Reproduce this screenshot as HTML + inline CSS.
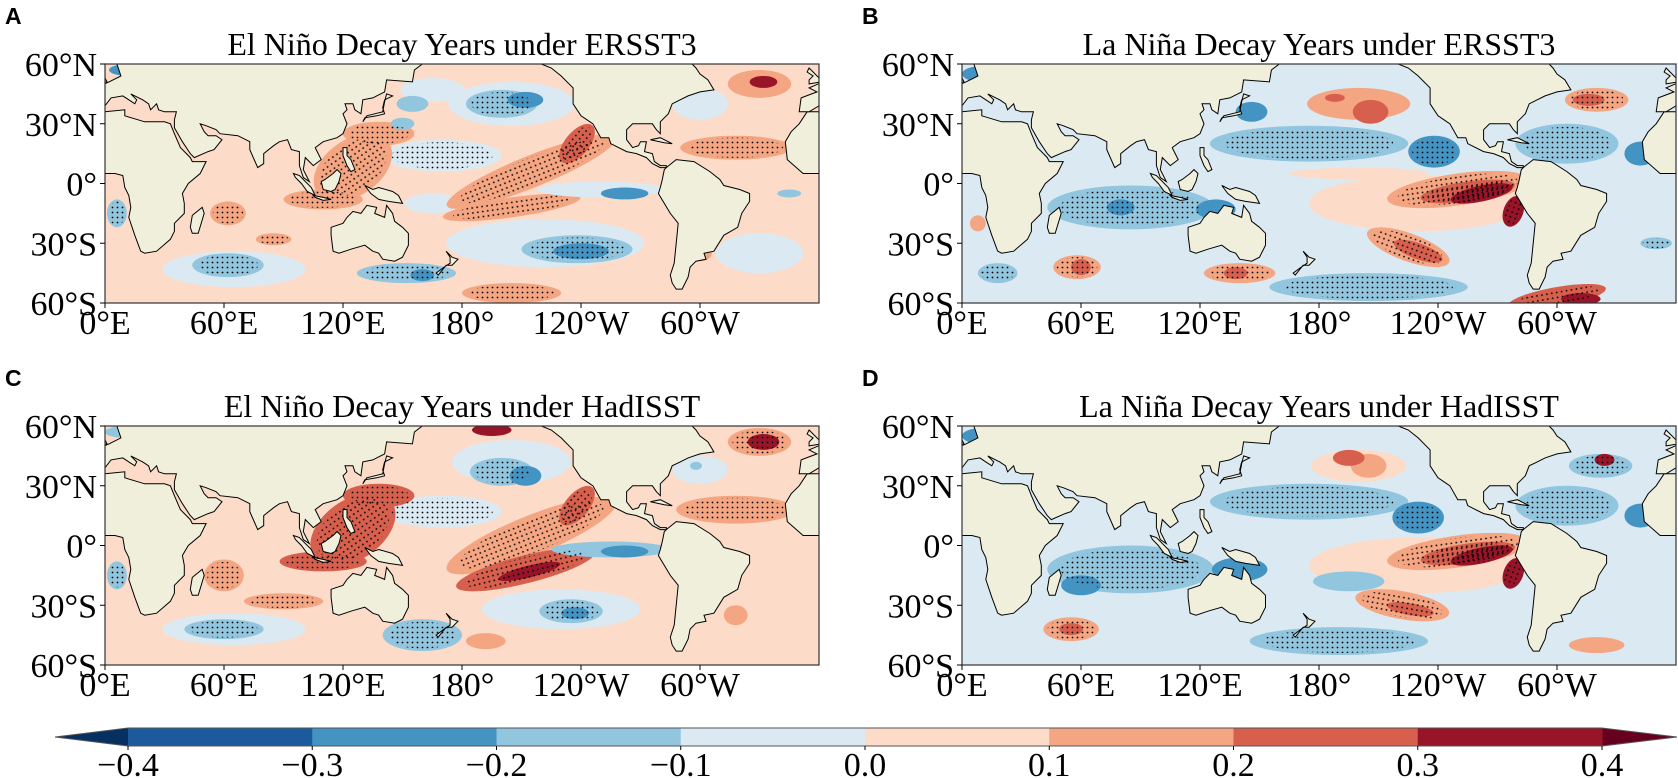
<!DOCTYPE html>
<html><head><meta charset="utf-8">
<style>
html,body{margin:0;padding:0;background:#fff;}
svg{display:block;}
text{font-family:"Liberation Serif",serif;fill:#000;}
.lbl{font-family:"Liberation Sans",sans-serif;font-weight:bold;}
</style></head>
<body>
<svg id="fig" width="1678" height="778" viewBox="0 0 1678 778" xmlns="http://www.w3.org/2000/svg">
<defs>
<pattern id="stip" width="5" height="5" patternUnits="userSpaceOnUse"><circle cx="2.5" cy="2.5" r="0.9" fill="#000"/></pattern>
</defs>
</svg>
<script>
// ---- data ----
const lonTicks=[0,60,120,180,240,300];
const lonTickLabels=["0°E","60°E","120°E","180°","120°W","60°W"];
const latTicks=[60,30,0,-30,-60];
const latTickLabels=["60°N","30°N","0°","30°S","60°S"];
const levels=[-0.4,-0.3,-0.2,-0.1,0,0.1,0.2,0.3,0.4];
const levelColors=["#053061","#1b5a9c","#4393c3","#92c5de","#dbe9f3","#fcdcc9","#f4a582","#d6604d","#981428","#67001f"];
const panelTitles=["El Niño Decay Years under ERSST3","La Niña Decay Years under ERSST3","El Niño Decay Years under HadISST","La Niña Decay Years under HadISST"];
const panelLetters=["A","B","C","D"];
const panelBase=[0.05,-0.05,0.05,-0.05];
// blobs: [lon, lat, rxDeg, ryDeg, value, stipple, angle]
const blobsA=[
[205,40,32,11,-0.05,0,0],[165,47,16,6,-0.05,0,0],[155,40,8,4,-0.15,0,0],[200,40,18,7,-0.15,1,0],[212,42,9,4,-0.25,0,0],
[170,14,30,8,-0.05,1,0],[165,-10,14,5,-0.05,0,0],[215,6,46,8,0.15,1,-22],[238,20,12,6,0.25,1,-50],[205,-12,35,5,0.15,1,-8],
[250,-3,32,4,-0.1,0,0],[262,-5,12,3,-0.25,0,0],[222,-30,50,12,-0.05,0,0],[238,-33,28,7,-0.15,1,0],[240,-34,14,4,-0.3,0,0],
[205,-55,25,5,0.15,1,0],[65,-43,36,9,-0.05,0,0],[62,-41,18,6,-0.2,1,0],[62,-15,9,6,0.15,1,0],[85,-28,9,3,0.15,1,0],
[125,8,22,14,0.15,1,-35],[138,25,18,6,0.15,1,0],[110,-8,20,5,0.15,1,0],[152,-45,25,5,-0.15,1,0],[160,-46,6,3,-0.3,0,0],
[330,50,16,7,0.15,0,0],[332,51,7,3,0.3,0,0],[318,18,28,6,0.15,1,0],[300,40,14,8,-0.05,0,0],[345,-5,6,2,-0.15,0,0],
[6,-15,5,7,-0.2,1,0],[330,-35,22,10,-0.05,0,0],[300,-35,6,4,0.15,0,0],[12,57,10,3,-0.25,0,0],[150,30,6,3,-0.15,0,0]
];
const blobsB=[
[230,-10,55,14,0.05,0,0],[200,5,35,3,0.05,0,0],[200,40,26,8,0.1,0,0],[206,36,9,6,0.25,0,0],[188,43,5,2,0.25,0,0],
[175,20,50,9,-0.15,1,0],[238,16,13,8,-0.25,1,0],[250,-3,36,8,0.15,1,-8],[255,-4,24,5,0.25,1,-8],[262,-5,16,4,0.35,1,-12],[278,-14,5,8,0.35,1,20],
[225,-32,22,7,0.15,1,20],[230,-34,13,4,0.25,0,20],[85,-12,42,11,-0.15,1,0],[128,-13,10,5,-0.3,0,0],[80,-12,7,4,-0.25,0,0],
[58,-42,12,6,0.15,1,0],[60,-42,5,4,0.25,0,0],[140,-45,18,5,0.15,1,0],[138,-45,6,3,0.25,0,0],[205,-52,50,7,-0.15,1,0],
[300,-57,25,5,0.2,1,-10],[312,-58,10,3,0.35,0,0],[320,42,16,6,0.15,1,0],[316,42,8,3,0.25,0,0],[305,20,26,10,-0.15,1,0],[342,15,8,6,-0.25,0,0],
[146,36,8,5,-0.25,0,0],[8,-20,4,4,0.15,0,0],[18,-45,10,5,-0.2,1,0],[10,55,10,4,-0.25,0,0],[350,-30,8,3,-0.15,1,0]
];
const blobsC=[
[205,42,30,11,-0.05,0,0],[200,37,16,7,-0.15,1,0],[212,35,8,5,-0.3,0,0],[170,17,30,8,-0.05,1,0],
[215,5,46,10,0.15,1,-22],[238,20,12,6,0.25,1,-50],[212,-12,36,7,0.2,1,-14],[214,-13,16,3,0.3,0,-14],
[255,-2,30,4,-0.15,0,0],[262,-3,12,3,-0.3,0,0],[230,-32,40,10,-0.05,0,0],[235,-33,16,6,-0.2,1,0],[237,-34,7,3,-0.3,0,0],
[65,-42,36,8,-0.05,0,0],[60,-42,20,5,-0.2,1,0],[60,-15,10,8,0.15,1,0],[90,-28,20,4,0.15,1,0],
[125,8,24,15,0.2,1,-35],[138,25,18,6,0.2,1,0],[110,-8,22,5,0.2,1,0],[160,-45,20,8,-0.15,1,0],
[330,52,16,7,0.15,1,0],[332,52,8,4,0.3,0,0],[318,18,30,7,0.15,1,0],[300,38,14,7,-0.05,0,0],[298,40,3,2,-0.2,0,0],
[6,-15,5,7,-0.15,1,0],[330,-35,18,8,0.05,0,0],[318,-35,6,5,0.15,0,0],[192,-48,10,4,0.15,0,0],[10,57,10,3,-0.2,0,0],[195,58,10,3,0.3,0,0]
];
const blobsD=[
[230,-10,55,14,0.05,0,0],[200,40,24,8,0.05,0,0],[205,40,9,6,0.15,0,0],[175,22,50,9,-0.15,1,0],[230,14,13,8,-0.25,1,0],
[250,-3,36,8,0.15,1,-8],[255,-4,24,5,0.25,1,-8],[262,-5,16,4,0.35,1,-12],[278,-14,5,8,0.35,1,20],
[222,-30,24,7,0.15,1,10],[226,-32,12,3,0.25,0,10],[85,-12,42,12,-0.15,1,0],[140,-12,14,6,-0.3,0,0],[60,-20,10,5,-0.25,0,0],
[55,-42,14,6,0.15,1,0],[55,-42,6,3,0.25,0,0],[190,-48,45,7,-0.15,1,0],[322,40,16,6,-0.15,1,0],[324,43,5,3,0.3,0,0],
[305,20,26,10,-0.15,1,0],[342,15,8,6,-0.25,0,0],[195,-18,18,5,-0.2,0,0],[195,44,8,4,0.2,0,0],[10,55,10,4,-0.25,0,0],[320,-50,14,4,0.1,0,0]
];
const panelBlobs=[blobsA,blobsB,blobsC,blobsD];
const cbValues=[-0.35,-0.25,-0.15,-0.05,0.05,0.15,0.25,0.35];
const cbTickLabels=["−0.4","−0.3","−0.2","−0.1","0.0","0.1","0.2","0.3","0.4"];
// continents [lon,lat] (lon may be negative)
const lands={
africa:[[-17,21],[-16,12],[-8,5],[5,5],[9,4],[10,-2],[12,-6],[13,-12],[12,-17],[15,-26],[18,-34],[20,-35],[26,-34],[33,-28],[35,-24],[35,-20],[40,-15],[40,-10],[39,-5],[42,0],[48,5],[51,11],[44,11],[43,13],[38,18],[35,25],[33,30],[30,31],[20,31],[10,34],[10,37],[0,36],[-6,36],[-10,30],[-14,26]],
eurasia:[[-10,36],[-9,43],[-1,46],[-5,48],[2,51],[8,54],[6,60],[160,60],[156,57],[155,51],[142,52],[141,46],[135,43],[130,42],[129,35],[126,37],[125,40],[121,40],[122,37],[120,35],[122,30],[120,25],[117,23],[110,21],[106,18],[109,12],[105,9],[101,13],[100,7],[103,1],[100,3],[98,9],[98,16],[94,17],[92,22],[88,21],[85,19],[80,15],[80,10],[77,8],[73,17],[73,21],[67,24],[58,25],[56,27],[51,29],[48,30],[50,26],[52,24],[56,24],[59,22],[55,17],[52,16],[45,13],[43,15],[39,21],[35,28],[35,32],[36,36],[30,36],[27,37],[26,40],[23,37],[22,40],[19,42],[13,45],[16,42],[15,40],[12,42],[9,44],[3,43],[0,39],[-5,36]],
britain:[[-5,50],[1,51],[0,53],[-3,56],[-5,58],[-6,56],[-3,54],[-5,52]],
japan:[[130,31],[132,34],[136,35],[140,36],[141,41],[142,45],[145,44],[141,42],[140,38],[141,35],[137,34],[131,33]],
australia:[[114,-22],[114,-26],[115,-34],[118,-35],[124,-33],[131,-31],[135,-34],[138,-35],[140,-38],[146,-39],[150,-37],[153,-31],[153,-25],[150,-22],[146,-19],[145,-15],[142,-11],[141,-17],[136,-15],[137,-12],[132,-11],[129,-15],[125,-14],[122,-17],[120,-20]],
newguinea:[[131,-1],[135,-3],[138,-2],[145,-4],[148,-6],[150,-10],[143,-9],[138,-8],[134,-5]],
borneo:[[109,1],[110,-3],[114,-4],[116,-3],[118,1],[119,5],[117,7],[115,5],[111,2]],
sumatra:[[95,5],[98,4],[104,-2],[106,-6],[102,-4],[99,0],[96,3]],
java:[[105,-6],[110,-7],[114,-8],[110,-8.5],[106,-7]],
philippines:[[120,18],[122,18],[122,14],[124,12],[126,7],[124,6],[122,9],[120,14]],
newzealand:[[172,-34],[175,-37],[178,-38],[175,-41],[172,-41],[168,-46],[167,-45],[171,-42],[174,-40],[174,-37]],
madagascar:[[44,-25],[47,-25],[50,-15],[49,-12],[44,-16],[43,-22]],
northamerica:[[-165,60],[-140,60],[-135,58],[-130,54],[-124,48],[-124,40],[-120,34],[-117,32],[-114,30],[-110,23],[-106,23],[-105,20],[-97,16],[-92,15],[-87,13],[-84,10],[-80,8],[-77,8],[-77,9],[-80,9],[-83,11],[-84,15],[-88,16],[-87,21],[-90,21],[-91,19],[-94,18],[-97,22],[-97,27],[-94,30],[-89,30],[-84,30],[-82,27],[-80,25],[-80,31],[-76,35],[-74,40],[-70,42],[-66,44],[-60,46],[-53,47],[-56,52],[-60,55],[-62,58],[-64,60]],
cuba:[[-85,22],[-80,23],[-74,20],[-78,20.5]],
southamerica:[[-77,8],[-72,12],[-63,11],[-55,6],[-50,2],[-48,-1],[-40,-3],[-35,-5],[-35,-9],[-39,-15],[-41,-22],[-48,-26],[-53,-34],[-58,-35],[-57,-38],[-62,-39],[-65,-42],[-66,-47],[-68,-51],[-69,-53],[-72,-53],[-74,-50],[-75,-46],[-73,-40],[-72,-30],[-71,-20],[-75,-15],[-78,-10],[-81,-5],[-80,-2],[-79,2],[-78,7]]
};
// ---- layout ----
const NS="http://www.w3.org/2000/svg";
const svg=document.getElementById('fig');
const PW=714,PH=239;
const panelPos=[[105,64],[962,64],[105,426],[962,426]];
function mk(tag,attrs,parent){const e=document.createElementNS(NS,tag);for(const k in attrs)e.setAttribute(k,attrs[k]);(parent||svg).appendChild(e);return e;}
function colorOf(v){for(let i=0;i<levels.length;i++){if(v<levels[i])return levelColors[i];}return levelColors[levelColors.length-1];}

panelPos.forEach((p,pi)=>{
  const x0=p[0],y0=p[1];
  const xLon=lon=>x0+lon/360*PW;
  const yLat=lat=>y0+(60-lat)/120*PH;
  const g=mk('g',{});
  
  
  const cp=mk('clipPath',{id:'clip'+pi},svg.querySelector('defs'));
  mk('rect',{x:x0,y:y0,width:PW,height:PH},cp);
  const field=mk('g',{'clip-path':'url(#clip'+pi+')'},g);
  const bg=mk('rect',{x:x0,y:y0,width:PW,height:PH,fill:colorOf(panelBase[pi])},field);
  
  
  panelBlobs[pi].forEach(b=>{
    [0,360,-360].forEach(sh=>{
      const cx=xLon(b[0]+sh),cy=yLat(b[1]),rx=b[2]*PW/360,ry=b[3]*PH/120;
      if(cx+rx<x0||cx-rx>x0+PW)return;
      const e=mk('ellipse',{cx:cx,cy:cy,rx:rx,ry:ry,fill:colorOf(b[4]),transform:'rotate('+b[6]+' '+cx+' '+cy+')'},field);
      
      
    });
  });
  panelBlobs[pi].forEach(b=>{
    if(!b[5])return;
    [0,360,-360].forEach(sh=>{
      const cx=xLon(b[0]+sh),cy=yLat(b[1]),rx=b[2]*PW/360*0.85,ry=b[3]*PH/120*0.85;
      if(cx+rx<x0||cx-rx>x0+PW)return;
      const e=mk('ellipse',{cx:cx,cy:cy,rx:rx,ry:ry,fill:'url(#stip)',transform:'rotate('+b[6]+' '+cx+' '+cy+')'},field);
      
      
    });
  });
  for(const name in lands){
    [0,360].forEach(sh=>{
      const pts=lands[name].map(q=>xLon(q[0]+sh).toFixed(1)+','+yLat(q[1]).toFixed(1)).join(' ');
      const e=mk('polygon',{points:pts,fill:'#efefdb',stroke:'#000','stroke-width':1},field);
      
      
    });
  }
  const fr=mk('rect',{x:x0,y:y0,width:PW,height:PH,fill:'none',stroke:'#333','stroke-width':1.2},g);
  
  
  lonTicks.forEach((lon,i)=>{
    const x=xLon(lon);
    mk('line',{x1:x,x2:x,y1:y0+PH,y2:y0+PH+5,stroke:'#000'},g);
    const t=mk('text',{x:x,y:y0+PH+31,'font-size':34,'text-anchor':'middle'},g);
    t.textContent=lonTickLabels[i];
    
    
  });
  latTicks.forEach((lat,i)=>{
    const y=yLat(lat);
    mk('line',{x1:x0-5,x2:x0,y1:y,y2:y,stroke:'#000'},g);
    const t=mk('text',{x:x0-8,y:y+12,'font-size':34,'text-anchor':'end'},g);
    t.textContent=latTickLabels[i];
    
    
  });
  const tt=mk('text',{x:x0+PW/2,y:y0-9,'font-size':32,'text-anchor':'middle'},g);
  tt.textContent=panelTitles[pi];
  
  
  const lt=mk('text',{x:x0-100,y:y0-40,'font-size':23,class:'lbl'},g);
  lt.textContent=panelLetters[pi];
  
  
});

// ---- colorbar ----
const cbX0=128,cbX1=1602,cbY=728,cbH=18;
const xCb=v=>cbX0+(v-levels[0])/(levels[levels.length-1]-levels[0])*(cbX1-cbX0);
const cb=mk('g',{});


const lo=mk('polygon',{points:`55,${cbY+cbH/2} ${cbX0},${cbY} ${cbX0},${cbY+cbH}`,fill:levelColors[0]},cb);


const hi=mk('polygon',{points:`1677,${cbY+cbH/2} ${cbX1},${cbY} ${cbX1},${cbY+cbH}`,fill:levelColors[9]},cb);


cbValues.forEach((v,i)=>{
  const r=mk('rect',{x:xCb(levels[i]),y:cbY,width:xCb(levels[i+1])-xCb(levels[i])+0.5,height:cbH,fill:colorOf(v)},cb);
  
  
});
mk('polygon',{points:`55,${cbY+cbH/2} ${cbX0},${cbY} ${cbX1},${cbY} 1677,${cbY+cbH/2} ${cbX1},${cbY+cbH} ${cbX0},${cbY+cbH}`,fill:'none',stroke:'#555','stroke-width':1},cb);
levels.forEach((v,i)=>{
  const x=xCb(v);
  mk('line',{x1:x,x2:x,y1:cbY+cbH,y2:cbY+cbH+4,stroke:'#000'},cb);
  const t=mk('text',{x:x,y:776,'font-size':34,'text-anchor':'middle'},cb);
  t.textContent=cbTickLabels[i];
  
  
});
</script>
</body></html>
